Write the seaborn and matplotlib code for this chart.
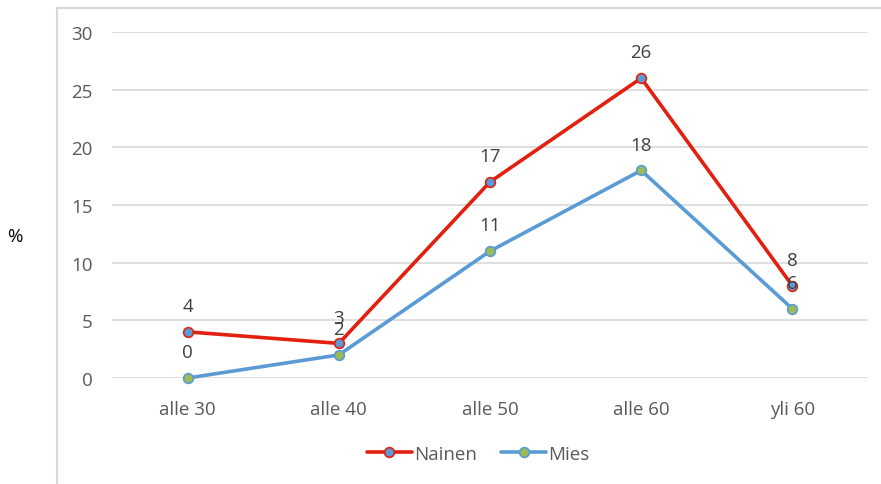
import matplotlib
matplotlib.use("Agg")
import matplotlib.pyplot as plt
from matplotlib.lines import Line2D
import seaborn as sns
import pandas as pd

# Age groups and shares (%) by gender
categories = ["alle 30", "alle 40", "alle 50", "alle 60", "yli 60"]
nainen = [4, 3, 17, 26, 8]
mies = [0, 2, 11, 18, 6]

RED = "#e2200f"
BLUE = "#5b9bd5"
GREEN = "#9bbb59"
TEXT = "#595959"
GRID = "#d9d9d9"
FS = 13.5

sns.set_theme(style="white")
plt.rcParams["font.family"] = ["Open Sans", "DejaVu Sans"]

fig = plt.figure(figsize=(8.81, 4.85), dpi=100)
W, H = 881, 485
ax = fig.add_axes([112 / W, 1 - 379 / H, (868 - 112) / W, (379 - 33) / H])

df_n = pd.DataFrame({"ikä": categories, "%": nainen})
df_m = pd.DataFrame({"ikä": categories, "%": mies})

sns.lineplot(data=df_n, x="ikä", y="%", ax=ax, color=RED, lw=2.6, sort=False,
             marker="o", markersize=7, markerfacecolor=BLUE,
             markeredgecolor=RED, markeredgewidth=1.2, label="Nainen",
             clip_on=False, zorder=4)
sns.lineplot(data=df_m, x="ikä", y="%", ax=ax, color=BLUE, lw=2.6, sort=False,
             marker="o", markersize=7, markerfacecolor=GREEN,
             markeredgecolor=BLUE, markeredgewidth=1.2, label="Mies",
             clip_on=False, zorder=3)

# value labels above the points
for vals in (nainen, mies):
    for i, v in enumerate(vals):
        ax.annotate(str(v), (i, v), xytext=(0, 18.5), textcoords="offset points",
                    ha="center", va="center", fontsize=FS, color="#404040",
                    zorder=5)

ax.set_xlim(-0.5, 4.5)
ax.set_ylim(0, 30)
ax.set_yticks(range(0, 31, 5))
ax.yaxis.grid(True, color=GRID, lw=1.2)
ax.xaxis.grid(False)
for s in ax.spines.values():
    s.set_visible(False)
ax.tick_params(axis="both", length=0, labelsize=FS, labelcolor=TEXT)
ax.tick_params(axis="y", pad=14)
ax.tick_params(axis="x", pad=16)
ax.set_xlabel("")
ax.set_ylabel("")

fig.text(15 / W, 1 - 237 / H, "%", ha="center", va="center", fontsize=FS,
         color="#000000")

# outer chart frame
fig.add_artist(Line2D([56.5 / W, 56.5 / W], [1 - 9 / H, 0], color=GRID, lw=1.5))
fig.add_artist(Line2D([56.5 / W, 1], [1 - 9 / H, 1 - 9 / H], color=GRID, lw=1.5))

leg = ax.legend(loc="center", bbox_to_anchor=(478 / W, 1 - 455 / H),
                bbox_transform=fig.transFigure, ncol=2, frameon=False,
                fontsize=FS, handlelength=2.4, columnspacing=1.3,
                handletextpad=0.1, labelcolor=TEXT)

fig.savefig("out.png", dpi=100)
